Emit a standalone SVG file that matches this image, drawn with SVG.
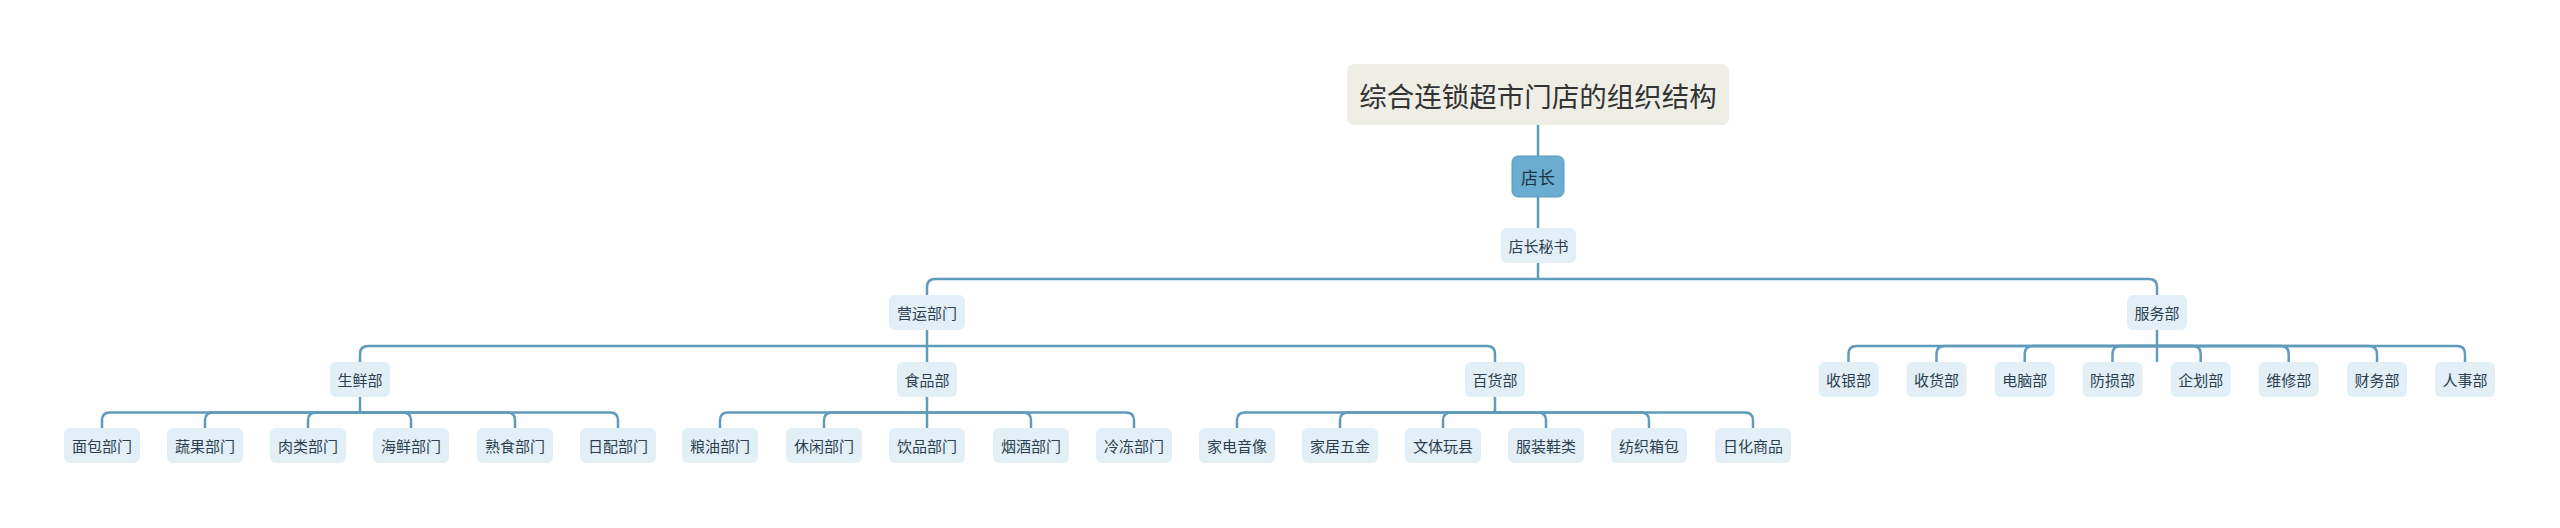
<svg xmlns="http://www.w3.org/2000/svg" width="2560" height="528" viewBox="0 0 2560 528">
<style>
text{font-family:"Microsoft YaHei","Noto Sans CJK SC","Noto Sans",sans-serif;text-anchor:middle;dominant-baseline:central}
.n rect{fill:#e2eff7}
.n text{font-size:15px;fill:#2b3f50}
.c path{fill:none;stroke:#5f9bbb;stroke-width:2.5}
</style>
<rect width="2560" height="528" fill="#ffffff"/>
<g class="c" id="connectors">
<path d="M1538 125V156"/>
<path d="M1538 197V228"/>
<path d="M1538 263V279"/>
<path d="M1538 279H935Q927 279 927 287V295"/>
<path d="M1538 279H2149Q2157 279 2157 287V295"/>
<path d="M927 330V362"/>
<path d="M927 346H368Q360 346 360 354V362"/>
<path d="M927 346H1487Q1495 346 1495 354V362"/>
<path d="M2157 330V362"/>
<path d="M2157 346H1856.5Q1848.5 346 1848.5 354V362"/>
<path d="M2157 346H1944.5Q1936.5 346 1936.5 354V362"/>
<path d="M2157 346H2032.7Q2024.7 346 2024.7 354V362"/>
<path d="M2157 346H2120.5Q2112.5 346 2112.5 354V362"/>
<path d="M2157 346H2192.7Q2200.7 346 2200.7 354V362"/>
<path d="M2157 346H2280.7Q2288.7 346 2288.7 354V362"/>
<path d="M2157 346H2369Q2377 346 2377 354V362"/>
<path d="M2157 346H2457Q2465 346 2465 354V362"/>
<path d="M360 397V412.5"/>
<path d="M360 412.5H110Q102 412.5 102 420.5V428"/>
<path d="M360 412.5H213Q205 412.5 205 420.5V428"/>
<path d="M360 412.5H316Q308 412.5 308 420.5V428"/>
<path d="M360 412.5H403Q411 412.5 411 420.5V428"/>
<path d="M360 412.5H507Q515 412.5 515 420.5V428"/>
<path d="M360 412.5H610Q618 412.5 618 420.5V428"/>
<path d="M927 397V428"/>
<path d="M927 412.5H728Q720 412.5 720 420.5V428"/>
<path d="M927 412.5H832Q824 412.5 824 420.5V428"/>
<path d="M927 412.5H1023Q1031 412.5 1031 420.5V428"/>
<path d="M927 412.5H1126Q1134 412.5 1134 420.5V428"/>
<path d="M1495 397V412.5"/>
<path d="M1495 412.5H1245Q1237 412.5 1237 420.5V428"/>
<path d="M1495 412.5H1348Q1340 412.5 1340 420.5V428"/>
<path d="M1495 412.5H1451Q1443 412.5 1443 420.5V428"/>
<path d="M1495 412.5H1538Q1546 412.5 1546 420.5V428"/>
<path d="M1495 412.5H1641Q1649 412.5 1649 420.5V428"/>
<path d="M1495 412.5H1745Q1753 412.5 1753 420.5V428"/>
</g>
<g id="title"><rect x="1347" y="64" width="382" height="61" rx="7" fill="#efeee6"/><text x="1538" y="95" font-size="27.5" fill="#333333">综合连锁超市门店的组织结构</text></g>
<g id="dianzhang"><rect x="1512" y="156" width="52" height="41" rx="6" fill="#6aadd1" stroke="#5b9bbf" stroke-width="1"/><text x="1538" y="176.5" font-size="17" fill="#1e3546">店长</text></g>
<g class="n" id="mishu"><rect x="1501" y="228" width="75" height="35" rx="6"/><text x="1538.5" y="245.5">店长秘书</text></g>
<g class="n" id="yingyun"><rect x="889" y="295" width="76" height="35" rx="6"/><text x="927" y="312.5">营运部门</text></g>
<g class="n" id="fuwu"><rect x="2127" y="295" width="60" height="35" rx="6"/><text x="2157" y="312.5">服务部</text></g>
<g class="n" id="shengxian"><rect x="330" y="362" width="60" height="35" rx="6"/><text x="360" y="379.5">生鲜部</text></g>
<g class="n" id="shipin"><rect x="897" y="362" width="60" height="35" rx="6"/><text x="927" y="379.5">食品部</text></g>
<g class="n" id="baihuo"><rect x="1465" y="362" width="60" height="35" rx="6"/><text x="1495" y="379.5">百货部</text></g>
<g class="n" id="shouyin"><rect x="1818.5" y="362" width="60" height="35" rx="6"/><text x="1848.5" y="379.5">收银部</text></g>
<g class="n" id="shouhuo"><rect x="1906.5" y="362" width="60" height="35" rx="6"/><text x="1936.5" y="379.5">收货部</text></g>
<g class="n" id="diannao"><rect x="1994.7" y="362" width="60" height="35" rx="6"/><text x="2024.7" y="379.5">电脑部</text></g>
<g class="n" id="fangsun"><rect x="2082.5" y="362" width="60" height="35" rx="6"/><text x="2112.5" y="379.5">防损部</text></g>
<g class="n" id="qihua"><rect x="2170.7" y="362" width="60" height="35" rx="6"/><text x="2200.7" y="379.5">企划部</text></g>
<g class="n" id="weixiu"><rect x="2258.7" y="362" width="60" height="35" rx="6"/><text x="2288.7" y="379.5">维修部</text></g>
<g class="n" id="caiwu"><rect x="2347" y="362" width="60" height="35" rx="6"/><text x="2377" y="379.5">财务部</text></g>
<g class="n" id="renshi"><rect x="2435" y="362" width="60" height="35" rx="6"/><text x="2465" y="379.5">人事部</text></g>
<g class="n" id="mianbao"><rect x="64" y="428" width="76" height="35" rx="6"/><text x="102" y="445.5">面包部门</text></g>
<g class="n" id="shuguo"><rect x="167" y="428" width="76" height="35" rx="6"/><text x="205" y="445.5">蔬果部门</text></g>
<g class="n" id="roulei"><rect x="270" y="428" width="76" height="35" rx="6"/><text x="308" y="445.5">肉类部门</text></g>
<g class="n" id="haixian"><rect x="373" y="428" width="76" height="35" rx="6"/><text x="411" y="445.5">海鲜部门</text></g>
<g class="n" id="shushi"><rect x="477" y="428" width="76" height="35" rx="6"/><text x="515" y="445.5">熟食部门</text></g>
<g class="n" id="ripei"><rect x="580" y="428" width="76" height="35" rx="6"/><text x="618" y="445.5">日配部门</text></g>
<g class="n" id="liangyou"><rect x="682" y="428" width="76" height="35" rx="6"/><text x="720" y="445.5">粮油部门</text></g>
<g class="n" id="xiuxian"><rect x="786" y="428" width="76" height="35" rx="6"/><text x="824" y="445.5">休闲部门</text></g>
<g class="n" id="yinpin"><rect x="889" y="428" width="76" height="35" rx="6"/><text x="927" y="445.5">饮品部门</text></g>
<g class="n" id="yanjiu"><rect x="993" y="428" width="76" height="35" rx="6"/><text x="1031" y="445.5">烟酒部门</text></g>
<g class="n" id="lengdong"><rect x="1096" y="428" width="76" height="35" rx="6"/><text x="1134" y="445.5">冷冻部门</text></g>
<g class="n" id="jiadian"><rect x="1199" y="428" width="76" height="35" rx="6"/><text x="1237" y="445.5">家电音像</text></g>
<g class="n" id="jiaju"><rect x="1302" y="428" width="76" height="35" rx="6"/><text x="1340" y="445.5">家居五金</text></g>
<g class="n" id="wenti"><rect x="1405" y="428" width="76" height="35" rx="6"/><text x="1443" y="445.5">文体玩县</text></g>
<g class="n" id="fuzhuang"><rect x="1508" y="428" width="76" height="35" rx="6"/><text x="1546" y="445.5">服装鞋类</text></g>
<g class="n" id="fangzhi"><rect x="1611" y="428" width="76" height="35" rx="6"/><text x="1649" y="445.5">纺织箱包</text></g>
<g class="n" id="rihua"><rect x="1715" y="428" width="76" height="35" rx="6"/><text x="1753" y="445.5">日化商品</text></g>
</svg>
